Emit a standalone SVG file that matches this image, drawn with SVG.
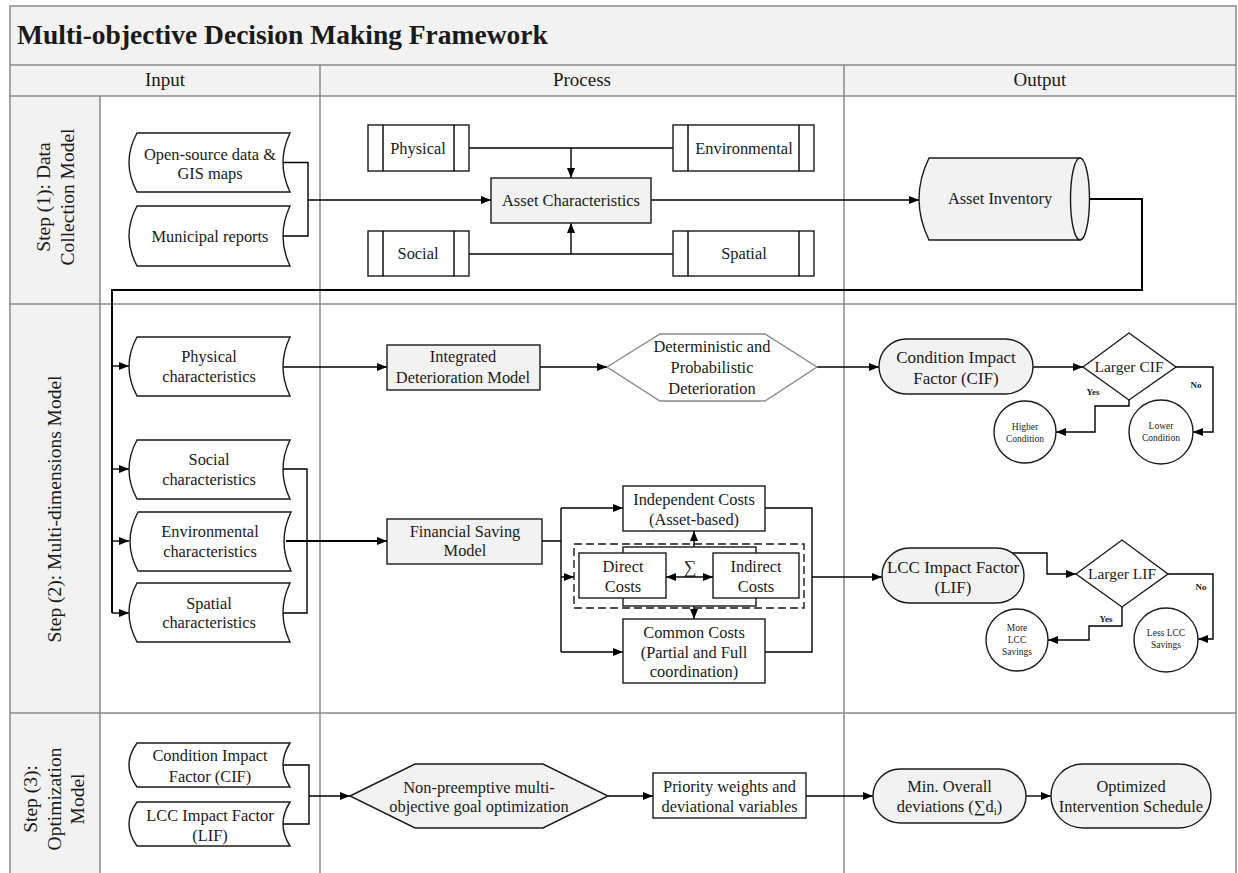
<svg xmlns="http://www.w3.org/2000/svg" width="1238" height="873" viewBox="0 0 1238 873">
<style>
text{font-family:"Liberation Serif","Times New Roman",serif;fill:#1a1a1a;font-size:16.4px;text-anchor:middle}
.title{font-size:27.5px;font-weight:bold;text-anchor:start}
.hdr{font-size:19px}
.lane{font-size:19.5px}
.big{font-size:17px}
.dec{font-size:15.5px}
.sm{font-size:9.5px}
.lbl{font-size:9px;font-weight:bold}
.frame{stroke:#8a8a8a;stroke-width:1.5;fill:none}
.band{fill:#f2f2f2;stroke:none}
.sh{stroke:#1a1a1a;stroke-width:1.4;fill:#fff}
.shg{stroke:#1a1a1a;stroke-width:1.4;fill:#f2f2f2}
.hexg{stroke:#8a8a8a;stroke-width:1.4;fill:#fff}
.dash{stroke:#1a1a1a;stroke-width:1.4;fill:none;stroke-dasharray:8 4}
.c{stroke:#000;stroke-width:1.4;fill:none}
.ca{stroke:#000;stroke-width:1.4;fill:none;marker-end:url(#ah)}
.cb{stroke:#000;stroke-width:2;fill:none}
</style>
<defs>
<marker id="ah" markerUnits="userSpaceOnUse" markerWidth="10" markerHeight="8" refX="10" refY="4" orient="auto-start-reverse" viewBox="0 0 10 8">
<path d="M0,0 L10,4 L0,8 Z" fill="#000"/>
</marker>
</defs>

<g id="frame">
<rect class="band" x="10" y="6" width="1226" height="90"/>
<rect class="band" x="10" y="96" width="90" height="777"/>
<rect x="100" y="96" width="1136" height="777" fill="#fff"/>
<path class="frame" d="M10,873 V6 H1236 V873 M10,65 H1236 M10,96 H1236 M10,304 H1236 M10,713 H1236 M100,96 V873 M320,65 V873 M844,65 V873"/>
<text class="title" x="17" y="44">Multi-objective Decision Making Framework</text>
<text class="hdr" x="165" y="86">Input</text>
<text class="hdr" x="582" y="86">Process</text>
<text class="hdr" x="1040" y="86">Output</text>
<g transform="translate(50,197) rotate(-90)"><text class="lane" x="0" y="0">Step (1): Data</text><text class="lane" x="0" y="24">Collection Model</text></g>
<g transform="translate(61,509) rotate(-90)"><text class="lane" x="0" y="0">Step (2): Multi-dimensions Model</text></g>
<g transform="translate(37,799) rotate(-90)"><text class="lane" x="0" y="0">Step (3):</text><text class="lane" x="0" y="23.5">Optimization</text><text class="lane" x="0" y="47">Model</text></g>
</g>

<g id="connectors">
<path class="c" d="M283,162.5 H308 V236 H283"/>
<path class="ca" d="M308,200 H491"/>
<path class="c" d="M469,148 H673"/>
<path class="ca" d="M571,148 V178"/>
<path class="c" d="M469,254 H673"/>
<path class="ca" d="M571,254 V223"/>
<path class="ca" d="M651,200 H919"/>
<path class="cb" d="M1089,199 H1142 V290 H112 V613"/>
<path class="ca" d="M112,366 H129"/>
<path class="ca" d="M112,469 H129"/>
<path class="ca" d="M112,541 H129"/>
<path class="ca" d="M112,613 H129"/>
<path class="ca" d="M283,367 H387"/>
<path class="ca" d="M540,367 H607"/>
<path class="ca" d="M817,367 H879"/>
<path class="ca" d="M1033,367 H1083"/>
<path class="ca" d="M1176,367 H1213 V432 H1193"/>
<path class="ca" d="M1129,400 V406 H1095 V432 H1056"/>
<path class="c" d="M283,469 H307 V613 H283"/>
<path class="ca" d="M286,541 H387" style="stroke-width:1.8"/>
<path class="c" d="M542,541 H561 M561,508 V652"/>
<path class="ca" d="M561,508 H623"/>
<path class="ca" d="M561,577 H574"/>
<path class="ca" d="M561,652 H623"/>
<path class="ca" d="M694,547 V531"/>
<path class="ca" d="M694,606 V619"/>
<path class="c" d="M765,508 H812 V652 H765"/>
<path class="ca" d="M812,577 H882"/>
<path class="ca" d="M1012,553 H1047 V574 H1076"/>
<path class="ca" d="M1168,574 H1213 V639 H1198"/>
<path class="ca" d="M1122,607 V626 H1089 V640 H1048"/>
<path class="c" d="M283,765 H309 V824 H283"/>
<path class="ca" d="M309,796 H350"/>
<path class="ca" d="M608,796 H653"/>
<path class="ca" d="M806,796 H873"/>
<path class="ca" d="M1026,796 H1051"/>
<text class="lbl" x="1196" y="388">No</text>
<text class="lbl" x="1093" y="395">Yes</text>
<text class="lbl" x="1201" y="590">No</text>
<text class="lbl" x="1106" y="622">Yes</text>
</g>

<g id="n-opensource">
<path class="sh" d="M137,133 H290 Q276,162.5 290,192 H137 Q121,162.5 137,133 Z"/>
<text x="210" y="160">Open-source data &amp;</text>
<text x="210" y="179">GIS maps</text>
</g>
<g id="n-municipal">
<path class="sh" d="M137,206 H290 Q276,236 290,266 H137 Q121,236 137,206 Z"/>
<text x="210" y="242">Municipal reports</text>
</g>
<g id="n-physical">
<rect class="sh" x="368" y="125" width="101" height="46"/>
<path class="c" d="M383,125 V171 M454,125 V171"/>
<text x="418" y="154">Physical</text>
</g>
<g id="n-environmental">
<rect class="sh" x="673" y="125" width="141" height="46"/>
<path class="c" d="M688,125 V171 M799,125 V171"/>
<text x="744" y="154">Environmental</text>
</g>
<g id="n-social">
<rect class="sh" x="368" y="231" width="101" height="45"/>
<path class="c" d="M383,231 V276 M454,231 V276"/>
<text x="418" y="259">Social</text>
</g>
<g id="n-spatial">
<rect class="sh" x="673" y="231" width="141" height="45"/>
<path class="c" d="M688,231 V276 M799,231 V276"/>
<text x="744" y="259">Spatial</text>
</g>
<g id="n-assetchar">
<rect class="shg" x="491" y="178" width="160" height="45"/>
<text x="571" y="206">Asset Characteristics</text>
</g>
<g id="n-inventory">
<path class="shg" d="M929,158 H1080 V240 H929 Q909,199 929,158 Z"/>
<ellipse class="shg" cx="1080" cy="199" rx="9.5" ry="41"/>
<text x="1000" y="204">Asset Inventory</text>
</g>

<g id="n-physchar">
<path class="sh" d="M137,337 H290 Q276,366.5 290,396 H137 Q121,366.5 137,337 Z"/>
<text x="209" y="362">Physical</text>
<text x="209" y="382">characteristics</text>
</g>
<g id="n-socchar">
<path class="sh" d="M137,440 H290 Q276,469.5 290,499 H137 Q121,469.5 137,440 Z"/>
<text x="209" y="465">Social</text>
<text x="209" y="485">characteristics</text>
</g>
<g id="n-envchar">
<path class="sh" d="M138,512 H291 Q277,541.5 291,571 H138 Q122,541.5 138,512 Z"/>
<text x="210" y="537">Environmental</text>
<text x="210" y="557">characteristics</text>
</g>
<g id="n-spachar">
<path class="sh" d="M137,583 H290 Q276,612.5 290,642 H137 Q121,612.5 137,583 Z"/>
<text x="209" y="609">Spatial</text>
<text x="209" y="628">characteristics</text>
</g>
<g id="n-idm">
<rect class="shg" x="387" y="345" width="153" height="45"/>
<text x="463" y="362">Integrated</text>
<text x="463" y="383">Deterioration Model</text>
</g>
<g id="n-detprob">
<polygon class="hexg" points="607,367 660,334 765,334 817,367 765,401 660,401"/>
<text x="712" y="352">Deterministic and</text>
<text x="712" y="373">Probabilistic</text>
<text x="712" y="394">Deterioration</text>
</g>
<g id="n-cif">
<rect class="shg" x="879" y="339" width="154" height="55" rx="27.5" ry="27.5"/>
<text class="big" x="956" y="362.5">Condition Impact</text>
<text class="big" x="956" y="383.5">Factor (CIF)</text>
</g>
<g id="n-largercif">
<polygon class="sh" points="1083,367 1129,333 1176,367 1129,400"/>
<text class="dec" x="1129" y="372">Larger CIF</text>
</g>
<g id="n-higher">
<circle class="sh" cx="1025" cy="432" r="31"/>
<text class="sm" x="1025" y="430">Higher</text>
<text class="sm" x="1025" y="442">Condition</text>
</g>
<g id="n-lower">
<circle class="sh" cx="1161" cy="432" r="32"/>
<text class="sm" x="1161" y="429">Lower</text>
<text class="sm" x="1161" y="441">Condition</text>
</g>
<g id="n-fsm">
<rect class="shg" x="387" y="519" width="155" height="45"/>
<text x="465" y="537">Financial Saving</text>
<text x="465" y="556">Model</text>
</g>
<g id="n-indep">
<rect class="sh" x="623" y="486" width="142" height="45"/>
<text x="694" y="505">Independent Costs</text>
<text x="694" y="525">(Asset-based)</text>
</g>
<g id="n-costgroup">
<rect class="dash" x="574" y="544" width="230" height="64"/>
<rect class="sh" x="623" y="547" width="133" height="59"/>
</g>
<g id="n-direct">
<rect class="sh" x="579" y="553" width="87" height="45"/>
<text x="623" y="572">Direct</text>
<text x="623" y="592">Costs</text>
</g>
<g id="n-indirect">
<rect class="sh" x="713" y="553" width="86" height="45"/>
<text x="756" y="572">Indirect</text>
<text x="756" y="592">Costs</text>
</g>
<g id="n-sum">
<path class="c" d="M666,577 H713" marker-start="url(#ah)" marker-end="url(#ah)"/>
<text x="690" y="573" style="font-size:18px">∑</text>
</g>
<g id="n-common">
<rect class="sh" x="623" y="619" width="142" height="64"/>
<text x="694" y="638">Common Costs</text>
<text x="694" y="658">(Partial and Full</text>
<text x="694" y="677">coordination)</text>
</g>
<g id="n-lif">
<rect class="shg" x="882" y="548" width="142" height="55" rx="27.5" ry="27.5"/>
<text class="big" x="953" y="572.5">LCC Impact Factor</text>
<text class="big" x="953" y="592.5">(LIF)</text>
</g>
<g id="n-largerlif">
<polygon class="sh" points="1076,574 1122,540 1168,574 1122,607"/>
<text class="dec" x="1122" y="579">Larger LIF</text>
</g>
<g id="n-more">
<circle class="sh" cx="1017" cy="640" r="31"/>
<text class="sm" x="1017" y="631">More</text>
<text class="sm" x="1017" y="643">LCC</text>
<text class="sm" x="1017" y="655">Savings</text>
</g>
<g id="n-less">
<circle class="sh" cx="1166" cy="640" r="32"/>
<text class="sm" x="1166" y="636">Less LCC</text>
<text class="sm" x="1166" y="648">Savings</text>
</g>

<g id="n-cif-in">
<path class="sh" d="M137,743 H290 Q276,765 290,787 H137 Q121,765 137,743 Z"/>
<text x="210" y="761">Condition Impact</text>
<text x="210" y="782">Factor (CIF)</text>
</g>
<g id="n-lif-in">
<path class="sh" d="M137,802 H290 Q276,824 290,846 H137 Q121,824 137,802 Z"/>
<text x="210" y="821">LCC Impact Factor</text>
<text x="210" y="841">(LIF)</text>
</g>
<g id="n-goal">
<polygon class="shg" points="350,796 415,764 543,764 608,796 543,828 415,828"/>
<text x="479" y="793">Non-preemptive multi-</text>
<text x="479" y="812">objective goal optimization</text>
</g>
<g id="n-priority">
<rect class="sh" x="653" y="773" width="153" height="45"/>
<text x="729.5" y="792">Priority weights and</text>
<text x="729.5" y="812">deviational variables</text>
</g>
<g id="n-min">
<rect class="shg" x="873" y="769" width="153" height="54" rx="27" ry="27"/>
<text x="949.5" y="792">Min. Overall</text>
<text x="949.5" y="812">deviations (∑d<tspan font-size="11" dy="3">i</tspan><tspan dy="-3">)</tspan></text>
</g>
<g id="n-optimized">
<rect class="shg" x="1051" y="764" width="160" height="64" rx="32" ry="32"/>
<text x="1131" y="792">Optimized</text>
<text x="1131" y="812">Intervention Schedule</text>
</g>
</svg>
